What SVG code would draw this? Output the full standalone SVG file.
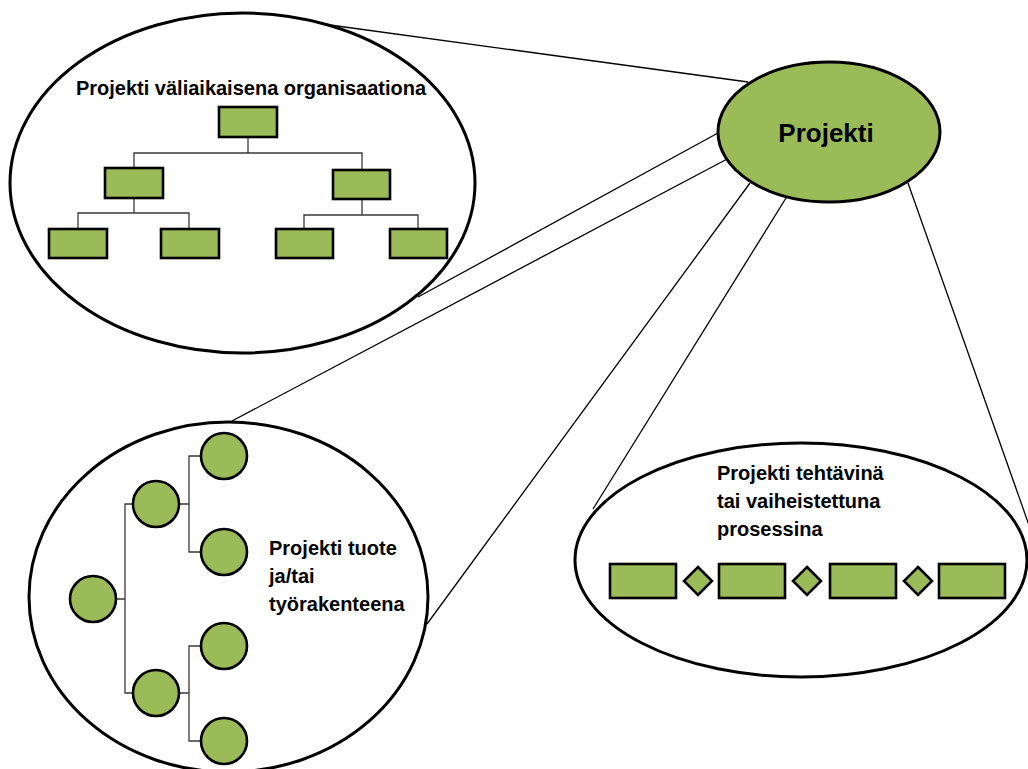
<svg xmlns="http://www.w3.org/2000/svg" width="1028" height="769" viewBox="0 0 1028 769">
  <style>
    .bg { fill: #ffffff; }
    .frame { fill: #ffffff; stroke: #000000; stroke-width: 3; }
    .hub { fill: #9bbb59; stroke: #000000; stroke-width: 3; }
    .box { fill: #9bbb59; stroke: #000000; stroke-width: 2.6; }
    .spoke { fill: none; stroke: #000000; stroke-width: 1.3; }
    .link { fill: none; stroke: #3a3a3a; stroke-width: 1.3; }
    .label { font-family: "Liberation Sans", Arial, sans-serif; font-weight: bold; font-size: 20px; fill: #000000; }
    .title { font-family: "Liberation Sans", Arial, sans-serif; font-weight: bold; font-size: 26px; fill: #000000; }
  </style>

  <rect class="bg" x="0" y="0" width="1028" height="769"/>

  <!-- spokes from the central Projekti ellipse to the three views -->
  <g id="connectors">
    <line class="spoke" x1="330" y1="25" x2="748" y2="82"/>
    <line class="spoke" x1="418" y1="297" x2="718" y2="133"/>
    <line class="spoke" x1="232" y1="421" x2="731" y2="157"/>
    <line class="spoke" x1="427" y1="624" x2="750" y2="183"/>
    <line class="spoke" x1="593" y1="509" x2="786" y2="198"/>
    <line class="spoke" x1="908" y1="183" x2="1030" y2="528"/>
  </g>

  <!-- central node -->
  <g id="projekti">
    <ellipse class="hub" cx="829" cy="132" rx="111" ry="70"/>
    <text class="title" x="826" y="142" text-anchor="middle">Projekti</text>
  </g>

  <!-- temporary organisation: org chart -->
  <g id="organisaatio">
    <ellipse class="frame" cx="242.5" cy="183" rx="232.5" ry="170"/>
    <text class="label" x="251" y="95" text-anchor="middle">Projekti väliaikaisena organisaationa</text>
    <path class="link" d="M248 137 V153 M134 168 V153 H362 V170 M134 198 V213 M78 229 V213 H189 V229 M362 199 V215 M304 229 V215 H418 V229"/>
    <rect class="box" x="219" y="107" width="58" height="30"/>
    <rect class="box" x="105" y="168" width="58" height="30"/>
    <rect class="box" x="333" y="170" width="57" height="29"/>
    <rect class="box" x="49" y="229" width="58" height="29"/>
    <rect class="box" x="161" y="229" width="58" height="29"/>
    <rect class="box" x="276" y="229" width="57" height="29"/>
    <rect class="box" x="390" y="229" width="57" height="29"/>
  </g>

  <!-- product / work breakdown structure -->
  <g id="tyorakenne">
    <ellipse class="frame" cx="228.5" cy="597" rx="199.5" ry="175"/>
    <path class="link" d="M117 599 H125 M132 504 H125 V693 H132 M180 504 H189 M200 456 H189 V552 H200 M180 693 H189 M200 646 H189 V741 H200"/>
    <circle class="box" cx="93" cy="599" r="23"/>
    <circle class="box" cx="156" cy="504" r="23"/>
    <circle class="box" cx="156" cy="693" r="23"/>
    <circle class="box" cx="224" cy="456" r="23"/>
    <circle class="box" cx="224" cy="552" r="23"/>
    <circle class="box" cx="224" cy="646" r="23"/>
    <circle class="box" cx="224" cy="741" r="23"/>
    <text class="label" x="269" y="555">Projekti tuote</text>
    <text class="label" x="269" y="583">ja/tai</text>
    <text class="label" x="269" y="611">työrakenteena</text>
  </g>

  <!-- tasks / phased process -->
  <g id="prosessi">
    <ellipse class="frame" cx="801" cy="560" rx="226" ry="117"/>
    <text class="label" x="717" y="480">Projekti tehtävinä</text>
    <text class="label" x="717" y="508">tai vaiheistettuna</text>
    <text class="label" x="717" y="536">prosessina</text>
    <rect class="box" x="610" y="564" width="66" height="34"/>
    <rect class="box" x="719" y="564" width="66" height="34"/>
    <rect class="box" x="830" y="564" width="66" height="34"/>
    <rect class="box" x="939" y="564" width="66" height="34"/>
    <polygon class="box" points="698,567 712,581 698,595 684,581"/>
    <polygon class="box" points="807,567 821,581 807,595 793,581"/>
    <polygon class="box" points="918,567 932,581 918,595 904,581"/>
  </g>
</svg>
